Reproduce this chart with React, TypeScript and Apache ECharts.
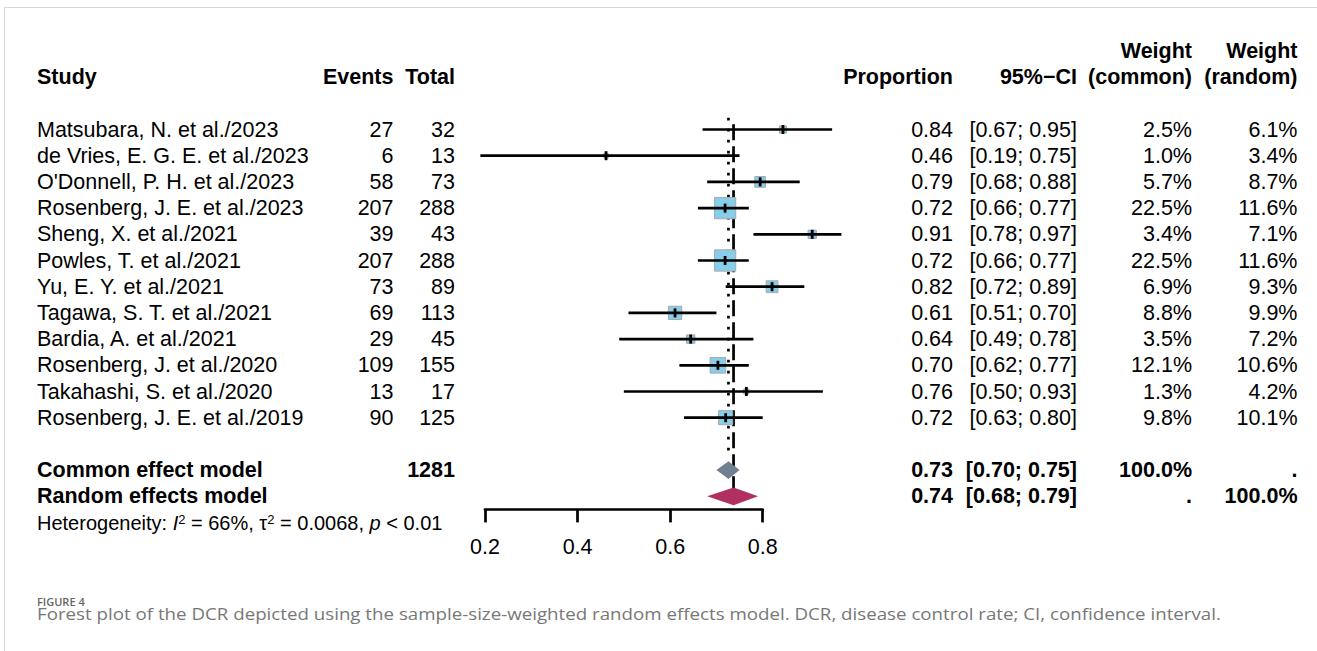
import React, { useEffect, useRef } from "react";
import * as echarts from "echarts";

// ---------------- data ----------------
const studies = [
  "Matsubara, N. et al./2023",
  "de Vries, E. G. E. et al./2023",
  "O'Donnell, P. H. et al./2023",
  "Rosenberg, J. E. et al./2023",
  "Sheng, X. et al./2021",
  "Powles, T. et al./2021",
  "Yu, E. Y. et al./2021",
  "Tagawa, S. T. et al./2021",
  "Bardia, A. et al./2021",
  "Rosenberg, J. et al./2020",
  "Takahashi, S. et al./2020",
  "Rosenberg, J. E. et al./2019",
];
const events = [27, 6, 58, 207, 39, 207, 73, 69, 29, 109, 13, 90];
const totals = [32, 13, 73, 288, 43, 288, 89, 113, 45, 155, 17, 125];
const proportions = [0.84, 0.46, 0.79, 0.72, 0.91, 0.72, 0.82, 0.61, 0.64, 0.70, 0.76, 0.72];
const ciLow = [0.67, 0.19, 0.68, 0.66, 0.78, 0.66, 0.72, 0.51, 0.49, 0.62, 0.50, 0.63];
const ciHigh = [0.95, 0.75, 0.88, 0.77, 0.97, 0.77, 0.89, 0.70, 0.78, 0.77, 0.93, 0.80];
const weightCommon = [2.5, 1.0, 5.7, 22.5, 3.4, 22.5, 6.9, 8.8, 3.5, 12.1, 1.3, 9.8];
const weightRandom = [6.1, 3.4, 8.7, 11.6, 7.1, 11.6, 9.3, 9.9, 7.2, 10.6, 4.2, 10.1];

const pooledNames = ["Common effect model", "Random effects model"];
const pooledEst = [0.726, 0.737];
const pooledLabel = ["0.73", "0.74"];
const pooledLow = [0.70, 0.68];
const pooledHigh = [0.75, 0.79];
const pooledWCommon = ["100.0%", "."];
const pooledWRandom = [".", "100.0%"];
const totalN = 1281;
const xTicks = [0.2, 0.4, 0.6, 0.8];

// ---------------- layout ----------------
const W = 1317;
const H = 651;
const ROW_H = 26.2;
const Y_MIN = -3.5;
const Y_MAX = 14.5;
const GRID_TOP = 37.8;
const GRID_LEFT = 485;
const GRID_W = 277.7;
const rowY = (r: number) => GRID_TOP + (r - Y_MIN) * ROW_H;
const FONT = "'Liberation Sans', Arial, Helvetica, sans-serif";
const FS = 21.5;

const COL = {
  study: 37,
  events: 393.5,
  total: 455,
  prop: 953,
  ci: 1077,
  wc: 1192,
  wr: 1297.5,
};

function txt(text: string, x: number, y: number, align: string, bold = false, size = FS) {
  return {
    type: "text",
    x,
    y,
    silent: true,
    style: {
      text,
      fill: "#000",
      fontFamily: FONT,
      fontSize: size,
      fontWeight: bold ? "bold" : "normal",
      align,
      verticalAlign: "middle",
    },
  };
}

export default function App() {
  const ref = useRef<HTMLDivElement>(null);
  useEffect(() => {
    if (!ref.current) return;
    const chart = echarts.init(ref.current, null, { renderer: "svg" });

    const graphics: any[] = [];
    // frame
    graphics.push({ type: "line", shape: { x1: 4.5, y1: 7.5, x2: W, y2: 7.5 }, style: { stroke: "#d6d6d6", lineWidth: 1 }, silent: true });
    graphics.push({ type: "line", shape: { x1: 4.5, y1: 7.5, x2: 4.5, y2: H }, style: { stroke: "#d6d6d6", lineWidth: 1 }, silent: true });

    // headers
    const h1 = rowY(-3);
    const h2 = rowY(-2);
    graphics.push(txt("Study", COL.study, h2, "left", true));
    graphics.push(txt("Events", COL.events, h2, "right", true));
    graphics.push(txt("Total", COL.total, h2, "right", true));
    graphics.push(txt("Proportion", COL.prop, h2, "right", true));
    graphics.push(txt("95%\u2212CI", COL.ci, h2, "right", true));
    graphics.push(txt("Weight", COL.wc, h1, "right", true));
    graphics.push(txt("(common)", COL.wc, h2, "right", true));
    graphics.push(txt("Weight", COL.wr, h1, "right", true));
    graphics.push(txt("(random)", COL.wr, h2, "right", true));

    studies.forEach((s, i) => {
      const y = rowY(i);
      graphics.push(txt(s, COL.study, y, "left"));
      graphics.push(txt(String(events[i]), COL.events, y, "right"));
      graphics.push(txt(String(totals[i]), COL.total, y, "right"));
      graphics.push(txt(proportions[i].toFixed(2), COL.prop, y, "right"));
      graphics.push(txt(`[${ciLow[i].toFixed(2)}; ${ciHigh[i].toFixed(2)}]`, COL.ci, y, "right"));
      graphics.push(txt(`${weightCommon[i].toFixed(1)}%`, COL.wc, y, "right"));
      graphics.push(txt(`${weightRandom[i].toFixed(1)}%`, COL.wr, y, "right"));
    });

    pooledNames.forEach((name, k) => {
      const y = rowY(13 + k);
      graphics.push(txt(name, COL.study, y, "left", true));
      if (k === 0) graphics.push(txt(String(totalN), COL.total, y, "right", true));
      graphics.push(txt(pooledLabel[k], COL.prop, y, "right", true));
      graphics.push(txt(`[${pooledLow[k].toFixed(2)}; ${pooledHigh[k].toFixed(2)}]`, COL.ci, y, "right", true));
      graphics.push(txt(pooledWCommon[k], COL.wc, y, "right", true));
      graphics.push(txt(pooledWRandom[k], COL.wr, y, "right", true));
    });

    // heterogeneity
    const HS = 20;
    graphics.push({
      type: "text",
      x: COL.study,
      y: rowY(15),
      silent: true,
      style: {
        text: "Heterogeneity: {i|I}{s|2} = 66%, \u03c4{s|2} = 0.0068, {i|p} < 0.01",
        fill: "#000",
        fontFamily: FONT,
        fontSize: HS,
        align: "left",
        verticalAlign: "middle",
        rich: {
          i: { fontStyle: "italic", fontFamily: FONT, fontSize: HS, fill: "#000" },
          s: { fontFamily: FONT, fontSize: 13, fill: "#000", verticalAlign: "top", padding: [0, 0, 4, 0] },
        },
      },
    });

    // caption
    graphics.push({
      type: "text", x: 37, y: 601, silent: true,
      style: { text: "FIGURE 4", fill: "#666", fontFamily: "'Open Sans', sans-serif", fontSize: 11, fontWeight: 600, align: "left", verticalAlign: "middle" },
    });
    graphics.push({
      type: "text", x: 37, y: 614, scaleX: 1.17, silent: true,
      style: {
        text: "Forest plot of the DCR depicted using the sample-size-weighted random effects model. DCR, disease control rate; CI, confidence interval.",
        fill: "#777", fontFamily: "'Open Sans', sans-serif", fontSize: 16, align: "left", verticalAlign: "middle",
      },
    });

    const studyData = studies.map((_, i) => [i, events[i] / totals[i], ciLow[i], ciHigh[i], weightCommon[i]]);
    const pooledData = pooledNames.map((_, k) => [13 + k, pooledEst[k], pooledLow[k], pooledHigh[k], k]);
    const refData = [
      [pooledEst[0], -0.45, 12.5, 0],
      [pooledEst[1], -0.2, 14, 1],
    ];

    chart.setOption({
      animation: false,
      grid: { left: GRID_LEFT, width: GRID_W, top: GRID_TOP, height: (Y_MAX - Y_MIN) * ROW_H },
      xAxis: {
        type: "value",
        position: "bottom",
        min: 0.2,
        max: 0.8,
        interval: 0.2,
        splitLine: { show: false },
        axisLine: { show: true, onZero: false, lineStyle: { color: "#000", width: 2.7 } },
        axisTick: { show: true, length: 13, lineStyle: { color: "#000", width: 2.7 } },
        axisLabel: {
          color: "#000",
          fontFamily: FONT,
          fontSize: FS,
          margin: 27,
          formatter: (v: number) => (xTicks.includes(Math.round(v * 10) / 10) ? v.toFixed(1) : ""),
        },
      },
      yAxis: { type: "value", min: Y_MIN, max: Y_MAX, inverse: true, show: false },
      graphic: graphics,
      series: [
        {
          type: "custom",
          name: "ref",
          clip: false,
          data: refData,
          renderItem: (_p: any, api: any) => {
            const a = api.coord([api.value(0), api.value(1)]);
            const b = api.coord([api.value(0), api.value(2)]);
            const dotted = api.value(3) === 0;
            return {
              type: "line",
              shape: { x1: a[0], y1: a[1], x2: b[0], y2: b[1] },
              style: {
                stroke: "#000",
                lineWidth: 2.7,
                lineDash: dotted ? [2.7, 8.3] : [16, 6],
              },
            };
          },
        },
        {
          type: "custom",
          name: "studies",
          clip: false,
          data: studyData,
          renderItem: (_p: any, api: any) => {
            const row = api.value(0);
            const c = api.coord([api.value(1), row]);
            const l = api.coord([api.value(2), row]);
            const h = api.coord([api.value(3), row]);
            const side = 21.3 * Math.sqrt(api.value(4) / 22.5);
            return {
              type: "group",
              children: [
                { type: "rect", shape: { x: c[0] - side / 2, y: c[1] - side / 2, width: side, height: side }, style: { fill: "#87CEEB", stroke: "#a8a8a8", lineWidth: 1 } },
                { type: "line", shape: { x1: l[0], y1: l[1], x2: h[0], y2: h[1] }, style: { stroke: "#000", lineWidth: 2.7 } },
                { type: "rect", shape: { x: c[0] - 1.4, y: c[1] - 4.5, width: 2.8, height: 9 }, style: { fill: "#000" } },
              ],
            };
          },
        },
        {
          type: "custom",
          name: "pooled",
          clip: false,
          data: pooledData,
          renderItem: (_p: any, api: any) => {
            const row = api.value(0);
            const c = api.coord([api.value(1), row]);
            const l = api.coord([api.value(2), row]);
            const h = api.coord([api.value(3), row]);
            const hh = 8.85;
            return {
              type: "polygon",
              shape: { points: [[l[0], c[1]], [c[0], c[1] - hh], [h[0], c[1]], [c[0], c[1] + hh]] },
              style: { fill: api.value(4) === 0 ? "#708090" : "#B03060" },
            };
          },
        },
      ],
    });
    return () => chart.dispose();
  }, []);
  return <div ref={ref} style={{ position: "fixed", left: 0, top: 0, width: W, height: H, background: "#fff" }} />;
}
